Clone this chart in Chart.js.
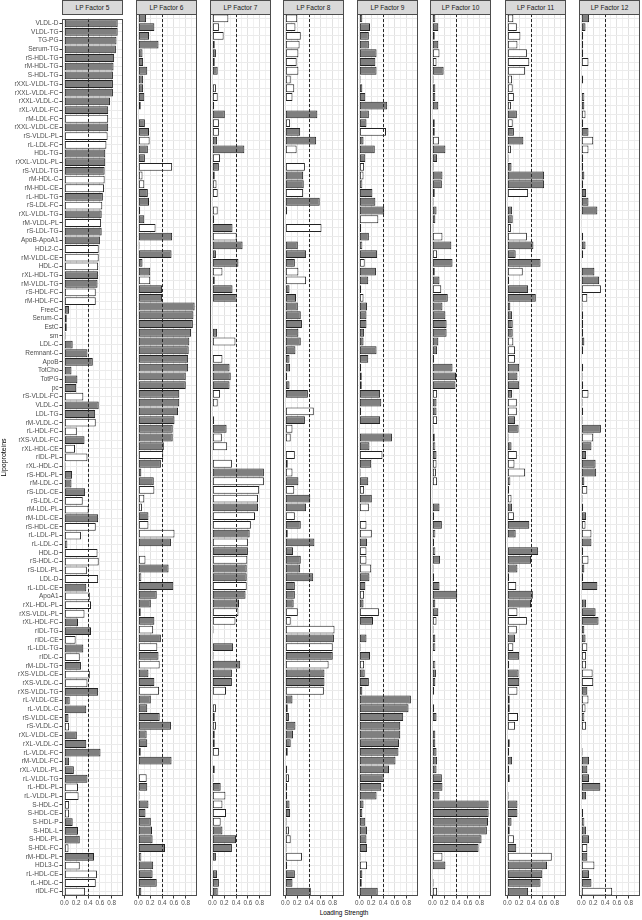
<!DOCTYPE html>
<html>
<head>
<meta charset="utf-8">
<script src="https://cdn.jsdelivr.net/npm/chart.js@4.4.1/dist/chart.umd.min.js"></script>
<style>
  body { margin: 0; background: #fff; width: 642px; height: 920px; position: relative; overflow: hidden;
         font-family: "Liberation Sans", Arial, sans-serif; }
  canvas { position: absolute; }
  .strip { position: absolute; top: 0; height: 15px; box-sizing: border-box; border: 1px solid #4d4d4d;
           background: #d9d9d9; color: #1a1a1a; font-size: 6.6px; line-height: 13px; text-align: center; }
  #xtitle { position: absolute; top: 909px; left: 62px; width: 564px; text-align: center;
            font-size: 6.4px; color: #000; }
</style>
</head>
<body>
<div id="xtitle">Loading Strength</div>
<script>
'use strict';

// Row labels, top to bottom
var lipoproteins = [
  'VLDL-D', 'VLDL-TG', 'TG-PG', 'Serum-TG', 'rS-HDL-TG', 'rM-HDL-TG', 'S-HDL-TG', 'rXXL-VLDL-TG', 'rXXL-VLDL-FC', 'rXXL-VLDL-C',
  'rXL-VLDL-FC', 'rM-LDL-FC', 'rXXL-VLDL-CE', 'rS-VLDL-PL', 'rL-LDL-FC', 'HDL-TG', 'rXXL-VLDL-PL', 'rS-VLDL-TG', 'rM-HDL-C', 'rM-HDL-CE',
  'rL-HDL-TG', 'rS-LDL-FC', 'rXL-VLDL-TG', 'rM-VLDL-PL', 'rS-LDL-TG', 'ApoB-ApoA1', 'HDL2-C', 'rM-VLDL-CE', 'HDL-C', 'rXL-HDL-TG',
  'rM-VLDL-TG', 'rS-HDL-FC', 'rM-HDL-FC', 'FreeC', 'Serum-C', 'EstC', 'sm', 'LDL-C', 'Remnant-C', 'ApoB',
  'TotCho', 'TotPG', 'pc', 'rS-VLDL-FC', 'VLDL-C', 'LDL-TG', 'rM-VLDL-C', 'rL-HDL-FC', 'rXS-VLDL-FC', 'rXL-HDL-CE',
  'rIDL-PL', 'rXL-HDL-C', 'rS-HDL-PL', 'rM-LDL-C', 'rS-LDL-CE', 'rS-LDL-C', 'rM-LDL-PL', 'rM-LDL-CE', 'rS-HDL-CE', 'rL-LDL-PL',
  'rL-LDL-C', 'HDL-D', 'rS-HDL-C', 'rS-LDL-PL', 'LDL-D', 'rL-LDL-CE', 'ApoA1', 'rXL-HDL-PL', 'rXS-VLDL-PL', 'rXL-HDL-FC',
  'rIDL-TG', 'rIDL-CE', 'rL-LDL-TG', 'rIDL-C', 'rM-LDL-TG', 'rXS-VLDL-CE', 'rXS-VLDL-C', 'rXS-VLDL-TG', 'rL-VLDL-CE', 'rL-VLDL-C',
  'rS-VLDL-CE', 'rS-VLDL-C', 'rXL-VLDL-CE', 'rXL-VLDL-C', 'rL-VLDL-FC', 'rM-VLDL-FC', 'rXL-VLDL-PL', 'rL-VLDL-TG', 'rL-HDL-PL', 'rL-VLDL-PL',
  'S-HDL-C', 'S-HDL-CE', 'S-HDL-P', 'S-HDL-L', 'S-HDL-PL', 'S-HDL-FC', 'rM-HDL-PL', 'HDL3-C', 'rL-HDL-CE', 'rL-HDL-C',
  'rIDL-FC'
];

var factorNames = ['LP Factor 5', 'LP Factor 6', 'LP Factor 7', 'LP Factor 8',
                   'LP Factor 9', 'LP Factor 10', 'LP Factor 11', 'LP Factor 12'];

// Loadings per factor; negative sign = negative loading (drawn as a white bar of |value|)
var f5 = [0.90, 0.90, 0.88, 0.87, 0.84, 0.83, 0.82, 0.82, 0.82, 0.77,
  0.74, -0.74, 0.74, -0.73, -0.71, 0.69, 0.69, 0.68, -0.68, -0.67,
  0.65, -0.64, 0.63, -0.62, 0.63, 0.60, -0.58, -0.58, -0.57, 0.57,
  0.56, -0.53, -0.53, 0.08, 0.04, 0.04, 0.02, 0.14, 0.39, 0.48,
  0.12, 0.22, 0.20, -0.32, 0.58, 0.52, -0.53, -0.21, 0.34, -0.18,
  -0.39, -0.02, 0.13, 0.12, 0.35, -0.31, -0.41, 0.57, -0.53, -0.28,
  -0.05, -0.56, -0.58, -0.38, -0.57, 0.37, -0.43, -0.45, -0.34, 0.23,
  0.45, -0.19, 0.32, -0.26, 0.28, -0.43, -0.39, 0.57, 0.09, 0.37,
  0.07, -0.08, 0.21, 0.37, 0.61, 0.08, 0.16, 0.39, -0.23, -0.24,
  -0.08, -0.08, 0.14, 0.23, 0.26, -0.07, 0.50, -0.26, -0.55, -0.53,
  -0.35];
var f6 = [0.13, 0.27, 0.18, 0.34, 0.07, 0.08, 0.15, 0.08, 0.08, 0.10,
  0.04, -0.01, 0.11, 0.18, -0.19, 0.16, 0.11, -0.57, -0.07, -0.10,
  0.16, 0.18, -0.03, 0.10, -0.29, 0.57, -0.02, 0.56, 0.07, 0.20,
  -0.20, 0.40, 0.40, 0.95, 0.93, 0.92, 0.89, 0.86, 0.85, 0.84,
  0.84, 0.80, 0.80, 0.69, 0.69, 0.67, 0.61, 0.58, 0.58, 0.43,
  -0.42, 0.38, 0.05, 0.26, -0.27, -0.10, -0.06, 0.17, -0.17, -0.61,
  0.55, 0.00, -0.12, 0.51, -0.05, 0.59, 0.31, 0.21, -0.04, 0.27,
  -0.25, 0.38, -0.32, 0.34, -0.36, 0.17, 0.27, -0.35, 0.21, 0.15,
  0.36, 0.55, 0.14, 0.15, 0.04, 0.56, 0.01, -0.14, 0.15, 0.02,
  0.17, 0.12, 0.21, 0.23, 0.24, 0.45, -0.05, 0.25, 0.24, 0.31,
  0.05];
var f7 = [-0.27, -0.11, -0.19, -0.04, 0.06, 0.04, 0.09, 0.01, -0.06, -0.09,
  -0.03, 0.21, -0.11, -0.11, 0.08, 0.54, -0.13, 0.11, -0.04, -0.07,
  -0.09, 0.01, -0.09, 0.03, 0.34, -0.41, 0.51, 0.06, 0.44, -0.17,
  0.04, 0.34, 0.41, 0.01, 0.00, 0.01, 0.08, -0.39, 0.01, -0.17,
  0.29, 0.31, 0.29, -0.13, -0.09, 0.01, 0.03, 0.24, -0.16, -0.25,
  0.01, -0.33, 0.87, -0.87, -0.79, -0.77, 0.77, -0.72, -0.65, 0.63,
  -0.60, 0.60, -0.59, 0.58, 0.58, -0.58, 0.56, 0.45, -0.44, -0.39,
  0.02, 0.00, 0.35, 0.02, 0.47, 0.33, 0.33, -0.23, 0.01, -0.06,
  -0.04, -0.06, -0.04, -0.04, -0.11, 0.01, -0.04, 0.02, 0.14, -0.22,
  -0.17, -0.23, -0.14, 0.17, 0.40, 0.33, 0.06, 0.01, 0.08, 0.11,
  0.09];
var f8 = [-0.20, -0.17, -0.26, -0.24, -0.22, -0.19, -0.22, -0.09, -0.15, -0.12,
  0.01, 0.54, -0.08, 0.25, 0.52, -0.19, 0.00, -0.33, 0.30, 0.31,
  -0.30, 0.58, 0.03, 0.01, -0.61, 0.01, 0.21, 0.35, 0.16, -0.22,
  -0.35, 0.07, 0.18, 0.21, 0.26, 0.28, 0.22, 0.26, 0.17, 0.07,
  0.08, 0.03, 0.07, 0.38, 0.01, -0.48, 0.33, -0.12, -0.09, 0.01,
  -0.16, -0.04, -0.12, 0.22, -0.15, 0.42, 0.35, -0.16, 0.26, 0.04,
  0.49, 0.13, 0.26, 0.25, 0.47, 0.16, 0.16, 0.14, -0.21, -0.09,
  -0.83, 0.82, -0.80, 0.80, -0.73, 0.66, 0.66, -0.65, 0.12, 0.04,
  0.06, 0.17, 0.13, 0.09, -0.04, 0.01, 0.03, -0.06, 0.03, -0.03,
  0.07, 0.08, 0.02, -0.06, -0.09, 0.02, -0.28, 0.03, 0.16, 0.12,
  0.43];
var f9 = [0.05, 0.18, 0.16, 0.16, 0.29, 0.27, 0.29, 0.02, 0.05, 0.10,
  0.47, 0.16, 0.12, -0.45, 0.07, 0.26, 0.10, -0.08, -0.07, -0.05,
  0.22, 0.27, 0.42, -0.32, -0.03, 0.16, -0.05, 0.30, -0.09, 0.28,
  0.15, 0.03, -0.07, 0.13, 0.12, 0.12, 0.08, 0.07, 0.29, 0.15,
  0.03, 0.04, 0.04, 0.35, 0.37, 0.03, 0.35, 0.01, 0.55, 0.17,
  -0.39, 0.20, 0.02, 0.15, -0.08, 0.21, -0.16, 0.01, -0.12, -0.21,
  0.13, -0.12, -0.12, -0.20, 0.17, 0.10, -0.08, 0.07, -0.33, 0.23,
  0.01, 0.12, -0.02, 0.18, -0.08, 0.09, 0.16, 0.05, 0.87, 0.83,
  0.74, 0.69, 0.69, 0.67, 0.66, 0.61, 0.50, 0.41, 0.37, 0.29,
  0.07, 0.05, 0.10, 0.13, 0.12, 0.13, 0.02, -0.13, 0.05, 0.04,
  0.31];
var f10 = [0.05, 0.10, -0.04, 0.10, -0.12, -0.07, 0.19, 0.02, 0.05, 0.05,
  0.10, 0.00, 0.04, 0.04, -0.11, 0.22, 0.08, 0.02, 0.17, 0.16,
  -0.04, -0.02, 0.07, 0.05, 0.02, -0.17, 0.32, -0.08, 0.34, -0.04,
  0.12, -0.15, 0.26, 0.17, 0.22, 0.24, 0.24, 0.10, 0.08, 0.03,
  0.34, 0.40, 0.39, -0.08, 0.07, 0.07, -0.08, -0.02, 0.04, -0.05,
  0.07, -0.07, -0.06, -0.08, 0.01, 0.00, 0.12, -0.03, 0.16, -0.05,
  -0.03, -0.05, 0.13, 0.02, 0.03, 0.12, 0.42, 0.05, 0.10, -0.07,
  0.02, 0.05, -0.05, 0.00, -0.05, 0.06, 0.05, -0.03, 0.00, 0.03,
  0.07, 0.00, 0.05, 0.05, 0.07, 0.08, 0.07, 0.16, 0.17, 0.12,
  0.95, 0.95, 0.94, 0.92, 0.83, 0.78, -0.17, 0.22, 0.00, 0.02,
  -0.08];
var f11 = [-0.10, -0.16, -0.22, -0.17, -0.33, -0.37, -0.30, -0.08, -0.09, -0.11,
  -0.06, 0.16, -0.09, 0.11, 0.27, -0.06, 0.02, 0.07, 0.62, 0.62,
  -0.35, 0.01, 0.08, 0.09, -0.06, -0.33, 0.44, 0.14, 0.56, -0.26,
  0.03, 0.35, 0.48, 0.05, 0.08, 0.09, 0.09, -0.10, -0.13, -0.13,
  0.20, 0.17, 0.20, 0.08, -0.16, -0.16, 0.13, 0.19, 0.02, 0.07,
  -0.16, -0.12, -0.30, -0.05, 0.03, -0.07, 0.08, -0.11, 0.37, 0.14,
  0.01, 0.52, 0.40, 0.17, 0.03, -0.15, 0.43, 0.40, -0.17, -0.33,
  -0.16, 0.13, -0.10, 0.20, 0.03, 0.19, 0.20, -0.17, -0.04, -0.04,
  -0.18, -0.13, 0.01, -0.04, 0.03, 0.08, 0.03, 0.04, 0.01, 0.02,
  0.17, 0.17, 0.07, -0.04, -0.11, 0.15, -0.75, 0.67, 0.59, 0.56,
  0.35];
var f12 = [0.13, 0.07, 0.03, 0.03, 0.03, -0.12, 0.01, 0.03, 0.01, -0.05,
  0.05, -0.07, 0.03, 0.12, -0.20, -0.12, 0.03, 0.03, 0.05, 0.03,
  0.08, 0.12, 0.27, 0.01, 0.00, -0.03, 0.07, 0.03, 0.00, 0.22,
  0.30, -0.33, -0.10, 0.02, -0.03, 0.03, -0.03, 0.05, 0.03, 0.01,
  0.03, 0.02, 0.03, -0.12, 0.02, 0.03, 0.02, 0.33, -0.20, 0.17,
  0.08, 0.24, 0.25, 0.05, -0.10, 0.02, 0.03, 0.08, -0.07, -0.17,
  0.17, -0.03, -0.12, 0.05, -0.03, 0.27, 0.01, 0.08, 0.24, 0.29,
  0.05, 0.07, -0.10, -0.08, -0.08, -0.19, -0.20, 0.10, -0.12, -0.07,
  -0.05, -0.08, 0.01, 0.00, 0.02, 0.13, 0.10, 0.13, 0.32, 0.08,
  0.01, 0.03, -0.05, 0.08, 0.13, -0.10, 0.10, -0.22, 0.13, 0.17,
  -0.52];

var series = [f5, f6, f7, f8, f9, f10, f11, f12];
var cutoff = 0.4;

// layout of the facet grid
var panelLeft = [62, 136, 210, 283, 357, 430, 505, 579];
var panelW = 61;
var plotTop = 14;
var canvasH = 894;

Chart.defaults.font.family = '"Liberation Sans", Arial, sans-serif';

var isMajor = function (v) {
  return Math.round(v * 10) % 2 === 0;
};

// dashed cutoff line and the panel frame
var panelDeco = {
  id: 'panelDeco',
  afterDatasetsDraw: function (chart) {
    var ctx = chart.ctx, a = chart.chartArea;
    var x = Math.round(chart.scales.x.getPixelForValue(cutoff)) + 0.5;
    ctx.save();
    ctx.strokeStyle = '#262626';
    ctx.lineWidth = 1;
    ctx.setLineDash([3, 2]);
    ctx.beginPath();
    ctx.moveTo(x, a.top);
    ctx.lineTo(x, a.bottom);
    ctx.stroke();
    ctx.restore();
  },
  afterDraw: function (chart) {
    var ctx = chart.ctx, a = chart.chartArea;
    ctx.save();
    ctx.strokeStyle = '#4d4d4d';
    ctx.lineWidth = 1;
    ctx.strokeRect(Math.round(a.left) + 0.5, Math.round(a.top) + 0.5,
                   Math.round(a.right - a.left) - 1, Math.round(a.bottom - a.top) - 1);
    ctx.restore();
  }
};

var makePanel = function (i) {
  var first = i === 0;
  var left = panelLeft[i];
  var padL = first ? 0 : 6;

  var strip = document.createElement('div');
  strip.className = 'strip';
  strip.style.left = left + 'px';
  strip.style.width = panelW + 'px';
  strip.textContent = factorNames[i];
  document.body.appendChild(strip);

  var canvas = document.createElement('canvas');
  canvas.width = first ? left + panelW + 6 : panelW + 12;
  canvas.height = canvasH;
  canvas.style.left = (first ? 0 : left - 6) + 'px';
  canvas.style.top = plotTop + 'px';
  document.body.appendChild(canvas);

  var vals = series[i];
  new Chart(canvas.getContext('2d'), {
    type: 'bar',
    data: {
      labels: lipoproteins,
      datasets: [{
        data: vals.map(function (v) { return Math.abs(v); }),
        backgroundColor: vals.map(function (v) { return v < 0 ? '#ffffff' : '#7f7f7f'; }),
        borderColor: '#222222',
        borderWidth: 1,
        borderSkipped: false,
        barPercentage: 0.9,
        categoryPercentage: 1
      }]
    },
    options: {
      indexAxis: 'y',
      responsive: false,
      animation: false,
      layout: { padding: { left: padL, right: 6, top: 0, bottom: 0 } },
      plugins: { legend: { display: false }, tooltip: { enabled: false } },
      scales: {
        x: {
          type: 'linear',
          min: -0.04,
          max: 0.99,
          border: { display: false },
          grid: {
            color: function (c) { return c.tick && isMajor(c.tick.value) ? '#e2e2e2' : '#f1f1f1'; },
            tickColor: function (c) { return c.tick && isMajor(c.tick.value) ? '#333' : 'rgba(0,0,0,0)'; },
            tickLength: 2.5
          },
          ticks: {
            stepSize: 0.1,
            includeBounds: false,
            autoSkip: false,
            maxRotation: 0,
            padding: 0.5,
            color: '#4d4d4d',
            font: { size: 6.3 },
            callback: function (v) { return isMajor(v) ? (Math.round(v * 10) / 10).toFixed(1) : ''; }
          },
          afterFit: function (s) { s.height = 12; }
        },
        y: {
          type: 'category',
          offset: true,
          border: { display: false },
          grid: { offset: false, color: '#ebebeb', tickColor: '#333', tickLength: 2.5, drawTicks: first },
          ticks: { display: first, autoSkip: false, padding: 1, color: '#4d4d4d', font: { size: 6.5 } },
          title: { display: first, text: 'Lipoproteins', color: '#000', font: { size: 7 }, padding: 0 },
          afterFit: function (s) { s.width = first ? left : 0; }
        }
      }
    },
    plugins: [panelDeco]
  });
};

for (var i = 0; i < series.length; i++) {
  makePanel(i);
}
</script>
</body>
</html>
